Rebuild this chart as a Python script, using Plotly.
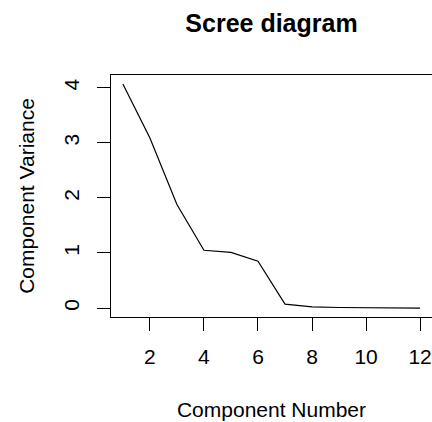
import plotly.graph_objects as go

components = list(range(1, 13))
variances = [4.07, 3.09, 1.88, 1.05, 1.01, 0.85, 0.07, 0.02, 0.01, 0.005, 0.0, 0.0]
x_ticks = [2, 4, 6, 8, 10, 12]
y_ticks = [0, 1, 2, 3, 4]

xpad = 0.04 * (max(components) - min(components))
ypad = 0.04 * (max(variances) - min(variances))

FONT = "Liberation Sans, Arial, Helvetica, sans-serif"

fig = go.Figure(go.Scatter(x=components, y=variances, mode="lines",
                           line=dict(color="black", width=1.2), showlegend=False))

axis_common = dict(showline=True, mirror=True, linecolor="black", linewidth=1,
                   ticks="outside", ticklen=13, tickwidth=1, tickcolor="black",
                   showgrid=False, zeroline=False,
                   tickfont=dict(family=FONT, size=21, color="black"))

fig.update_xaxes(range=[min(components) - xpad, max(components) + xpad],
                 tickvals=x_ticks, ticktext=[str(v) for v in x_ticks],
                 ticklabelstandoff=8,
                 title=dict(text="Component Number", font=dict(family=FONT, size=21, color="black"), standoff=35),
                 **axis_common)
fig.update_yaxes(range=[min(variances) - ypad, max(variances) + ypad],
                 tickvals=y_ticks, ticktext=[str(v) for v in y_ticks], tickangle=-90,
                 ticklabelstandoff=10,
                 title=dict(text="Component Variance", font=dict(family=FONT, size=21, color="black"), standoff=19),
                 **axis_common)

fig.update_layout(
    width=432, height=422,
    margin=dict(l=111, r=0, t=75, b=105),
    paper_bgcolor="white", plot_bgcolor="white",
    title=dict(text="<b>Scree diagram</b>", x=0.5, xref="paper", y=1 - 23 / 422,
               yref="container", yanchor="middle", xanchor="center",
               font=dict(family=FONT, size=25, color="black")),
)

fig.write_html("out.html")
